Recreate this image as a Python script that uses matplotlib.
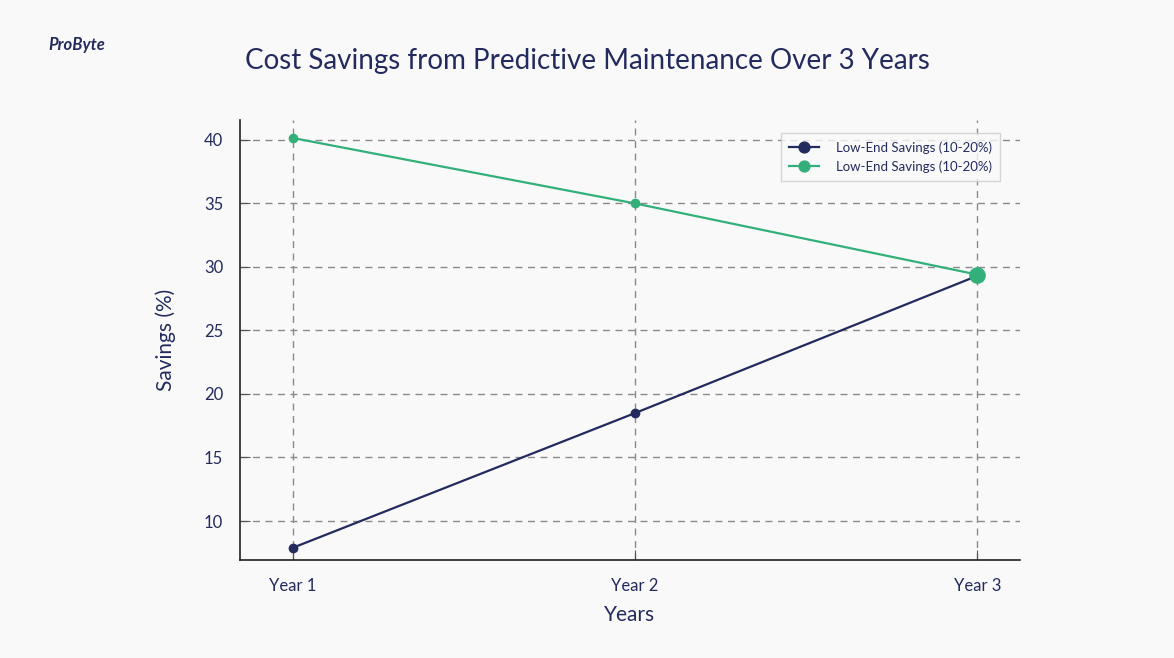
import matplotlib.pyplot as plt
import numpy as np

# DATA
years = ['Year 1', 'Year 2', 'Year 3']
low_end = [7.9, 18.5, 29.3]
high_end = [40.15, 35.0, 29.4]
legend_labels = ['Low-End Savings (10-20%)', 'Low-End Savings (10-20%)']

navy = '#232b5e'
green = '#33b07a'
bg = '#f9f9f9'

plt.rcParams['font.family'] = ['Lato', 'DejaVu Sans']

fig = plt.figure(figsize=(11.74, 6.58), dpi=100, facecolor=bg)
ax = fig.add_axes([240/1174, 1 - 560/658, 780/1174, 440/658])
ax.set_facecolor(bg)

x = np.arange(len(years))
ax.plot(x, low_end, '-o', color=navy, lw=1.6, ms=6, label=legend_labels[0], zorder=3)
ax.plot(x, high_end, '-o', color=green, lw=1.6, ms=6, label=legend_labels[1], zorder=3)
# enlarged last point
ax.plot(x[-1], high_end[-1], 'o', color=green, ms=11, zorder=4)

ax.set_xlim(-0.155, 2.125)
ax.set_ylim(6.93, 41.57)
ax.set_xticks(x)
ax.set_xticklabels(years)
ax.set_yticks([10, 15, 20, 25, 30, 35, 40])

ax.grid(True, linestyle=(0, (5, 4)), color='#8a8a8a', lw=1)
ax.set_axisbelow(True)
for s in ['top', 'right']:
    ax.spines[s].set_visible(False)
for s in ['left', 'bottom']:
    ax.spines[s].set_color('#222222')
    ax.spines[s].set_linewidth(1.2)

ax.tick_params(axis='both', direction='in', length=7, color='#555555',
               labelsize=12, labelcolor=navy, pad=12)
ax.tick_params(axis='x', pad=13)

ax.set_xlabel('Years', fontsize=15, color=navy, labelpad=8)
ax.set_ylabel('Savings (%)', fontsize=15, color=navy, labelpad=20)

leg = ax.legend(loc='upper right', bbox_to_anchor=(0.983, 0.985), fontsize=9.5,
                frameon=True, fancybox=False, edgecolor='#cccccc',
                handlelength=2.3, handletextpad=1.3, borderpad=0.6,
                markerscale=1.3)
leg.get_frame().set_facecolor(bg)
for t in leg.get_texts():
    t.set_color(navy)

fig.text(0.5, 1 - 61/658, 'Cost Savings from Predictive Maintenance Over 3 Years',
         ha='center', va='center', fontsize=20, color=navy)
fig.text(48/1174, 1 - 45/658, 'ProByte', ha='left', va='center',
         fontsize=12, fontweight='bold', fontstyle='italic', color=navy)

fig.savefig('out.png', dpi=100, facecolor=bg)
